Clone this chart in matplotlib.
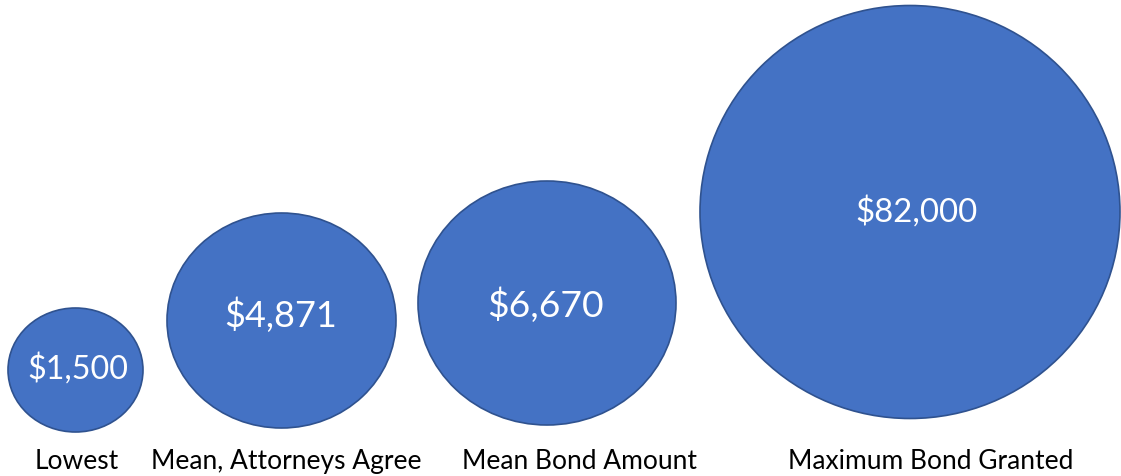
import matplotlib.pyplot as plt
from matplotlib.patches import Ellipse

# data
categories = ["Lowest", "Mean, Attorneys Agree", "Mean Bond Amount", "Maximum Bond Granted"]
amounts = [1500, 4871, 6670, 82000]

# layout in pixel units (the bubbles are not drawn to scale in the original)
centers_x = [75.5, 281.5, 547, 910]
centers_y = [370, 320.5, 303, 212]
widths = [135, 229, 258, 420]
heights = [124, 215, 244, 413]
value_x = [78, 281, 545, 917]
value_base = [379, 327, 317, 222]
value_size = [23.2, 26, 26.8, 23.8]
label_x = [77, 286, 579, 931]
label_base = 469

FILL = "#4472C4"
EDGE = "#2F528F"

plt.rcParams["font.family"] = ["Lato", "DejaVu Sans"]

fig = plt.figure(figsize=(11.21, 4.76), dpi=100)
ax = fig.add_axes([0, 0, 1, 1])
ax.set_xlim(0, 1121)
ax.set_ylim(476, 0)
ax.axis("off")

for i, amt in enumerate(amounts):
    ax.add_patch(Ellipse((centers_x[i], centers_y[i]), widths[i], heights[i],
                         facecolor=FILL, edgecolor=EDGE, linewidth=1.2))
    ax.text(value_x[i], value_base[i], f"${amt:,}", color="white",
            fontsize=value_size[i], ha="center", va="baseline")
    ax.text(label_x[i], label_base, categories[i], color="black",
            fontsize=19, ha="center", va="baseline")

fig.savefig("out.png", dpi=100)
